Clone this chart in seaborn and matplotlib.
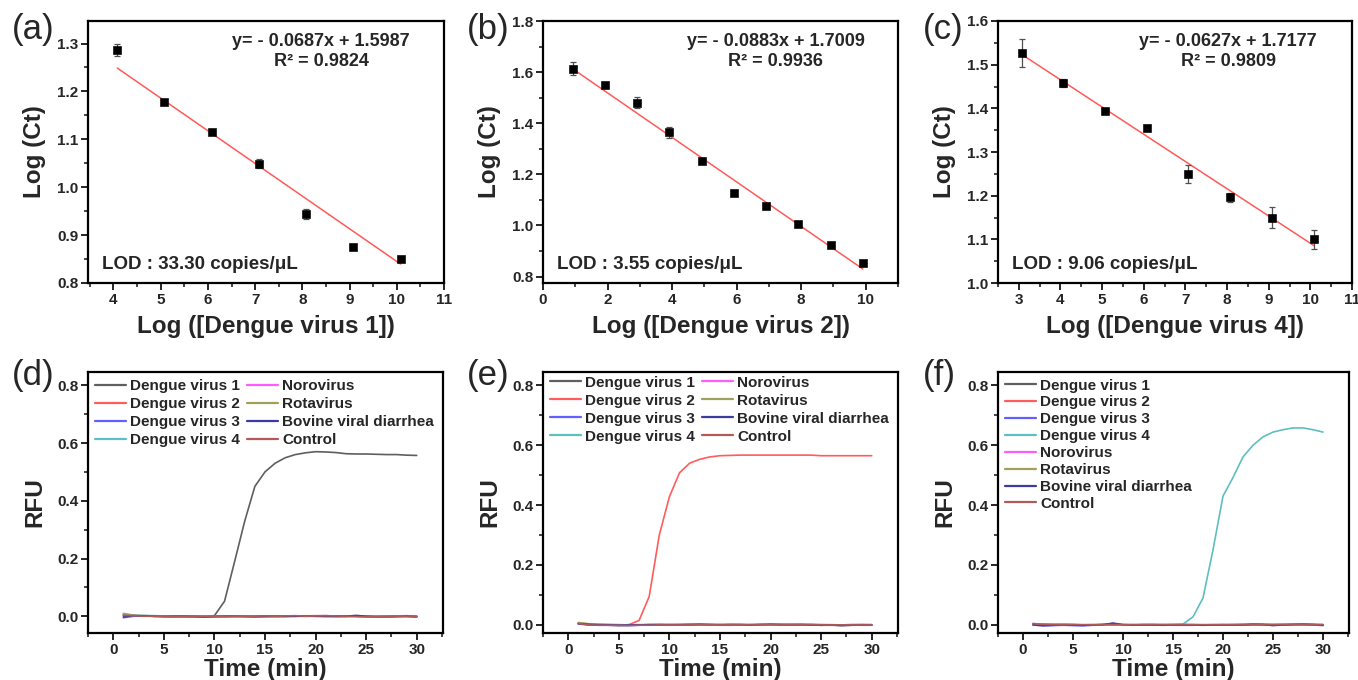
import matplotlib as mpl
import matplotlib.pyplot as plt
from matplotlib.ticker import MultipleLocator
import numpy as np
import pandas as pd
import seaborn as sns

sns.set_style("ticks")
plt.rcParams["font.family"] = ["Liberation Sans", "DejaVu Sans"]
plt.rcParams["font.weight"] = "bold"
plt.rcParams["axes.labelweight"] = "bold"

# ---- standard curves (top row) ----
log_conc_a = [4.08, 5.08, 6.08, 7.08, 8.08, 9.08, 10.08]
log_ct_a = [1.287, 1.178, 1.115, 1.049, 0.944, 0.8755, 0.851]
err_a = [0.013, 0.005, 0.003, 0.009, 0.011, 0.003, 0.003]

log_conc_b = [0.92, 1.92, 2.92, 3.91, 4.92, 5.92, 6.92, 7.91, 8.91, 9.91]
log_ct_b = [1.614, 1.549, 1.481, 1.365, 1.251, 1.129, 1.077, 1.005, 0.922, 0.853]
err_b = [0.025, 0.006, 0.02, 0.022, 0.005, 0.006, 0.005, 0.004, 0.004, 0.005]

log_conc_c = [3.08, 4.07, 5.07, 6.07, 7.06, 8.06, 9.07, 10.08]
log_ct_c = [1.527, 1.458, 1.394, 1.356, 1.250, 1.196, 1.150, 1.100]
err_c = [0.032, 0.01, 0.005, 0.006, 0.02, 0.01, 0.025, 0.021]

# drawn fit lines (slope, intercept) and printed annotations
fit_a = (-0.0682, 1.527)
fit_b = (-0.0871, 1.693)
fit_c = (-0.0624, 1.715)
eq_texts = ["y= - 0.0687x + 1.5987\nR² = 0.9824",
            "y= - 0.0883x + 1.7009\nR² = 0.9936",
            "y= - 0.0627x + 1.7177\nR² = 0.9809"]
lod_texts = ["LOD : 33.30 copies/μL", "LOD : 3.55 copies/μL", "LOD : 9.06 copies/μL"]
xlabels_top = ["Log ([Dengue virus 1])", "Log ([Dengue virus 2])", "Log ([Dengue virus 4])"]

# ---- specificity curves (bottom row) ----
time_min = list(range(1, 31))
virus_names = ["Dengue virus 1", "Dengue virus 2", "Dengue virus 3", "Dengue virus 4",
               "Norovirus", "Rotavirus", "Bovine viral diarrhea", "Control"]
virus_colors = ["#5f5f5f", "#ff5c5c", "#6060ff", "#5fbfbf",
                "#ff5cff", "#a0a05a", "#3c3ca0", "#b05a5a"]

rfu_d = {
    "Dengue virus 1": [0.004, 0.002, 0.001, 0.000, 0.000, -0.001, 0.000, 0.000, 0.000, 0.002,
                       0.052, 0.19, 0.33, 0.45, 0.50, 0.53, 0.549, 0.560, 0.566, 0.570,
                       0.569, 0.567, 0.563, 0.562, 0.562, 0.561, 0.560, 0.560, 0.558, 0.557],
    "Dengue virus 2": [0.006, 0.002, 0.001, 0.000, 0.000, -0.002, -0.002, -0.001, -0.001, -0.001,
                       -0.001, 0.000, 0.000, -0.001, 0.000, 0.001, 0.001, 0.000, 0.001, 0.002,
                       0.002, 0.000, -0.001, 0.000, -0.002, -0.002, -0.001, 0.000, 0.000, -0.002],
    "Dengue virus 3": [-0.005, 0.000, 0.001, 0.000, -0.001, -0.001, -0.001, -0.002, -0.002, -0.001,
                       0.000, -0.001, 0.000, -0.002, -0.002, -0.001, 0.000, 0.000, 0.001, 0.000,
                       -0.001, 0.000, 0.001, 0.000, -0.001, -0.002, -0.002, -0.001, 0.000, -0.002],
    "Dengue virus 4": [0.010, 0.004, 0.003, 0.002, 0.001, 0.000, 0.000, -0.001, 0.000, 0.000,
                       -0.001, -0.001, 0.000, 0.000, -0.001, -0.001, 0.000, 0.001, 0.000, 0.000,
                       -0.001, -0.002, -0.001, 0.000, 0.000, -0.001, -0.001, 0.000, 0.001, 0.000],
    "Norovirus": [0.004, 0.002, 0.001, 0.000, 0.000, 0.000, -0.001, -0.001, -0.001, -0.002,
                  -0.002, -0.001, -0.001, 0.000, 0.000, -0.001, 0.000, 0.000, 0.001, 0.000,
                  0.000, -0.001, 0.000, 0.000, -0.001, -0.001, 0.000, 0.001, 0.002, 0.000],
    "Rotavirus": [0.007, 0.003, 0.002, 0.001, 0.000, -0.001, 0.000, 0.000, -0.001, 0.000,
                  0.000, 0.001, 0.000, -0.001, 0.000, 0.000, 0.001, 0.000, 0.000, 0.001,
                  0.000, 0.000, 0.000, 0.001, 0.000, -0.001, 0.000, 0.000, 0.000, 0.000],
    "Bovine viral diarrhea": [-0.002, 0.002, 0.001, 0.000, -0.001, 0.000, 0.000, -0.001, -0.002, -0.001,
                              0.000, 0.000, -0.001, -0.001, 0.000, 0.000, -0.001, 0.000, 0.000, 0.000,
                              0.001, 0.000, 0.000, 0.003, 0.000, -0.001, -0.001, -0.001, 0.000, -0.001],
    "Control": [0.003, 0.002, 0.000, 0.000, 0.000, -0.001, -0.001, 0.000, 0.000, 0.000,
                -0.001, 0.000, 0.000, 0.000, 0.001, 0.000, 0.001, 0.002, 0.000, 0.001,
                0.002, 0.001, 0.000, -0.001, -0.002, -0.001, -0.001, 0.000, -0.001, -0.001],
}

rfu_e = {
    "Dengue virus 1": [0.004, 0.000, -0.001, -0.001, -0.002, -0.002, -0.001, -0.001, 0.000, -0.001,
                       -0.001, 0.000, 0.000, 0.000, -0.001, 0.000, 0.000, -0.001, -0.001, 0.000,
                       0.000, -0.001, -0.001, -0.001, -0.002, -0.002, -0.003, -0.002, -0.001, -0.001],
    "Dengue virus 2": [0.005, 0.000, -0.001, -0.002, -0.002, 0.000, 0.014, 0.094, 0.300, 0.428,
                       0.508, 0.540, 0.553, 0.561, 0.565, 0.566, 0.567, 0.567, 0.567, 0.567,
                       0.567, 0.567, 0.567, 0.567, 0.565, 0.565, 0.565, 0.565, 0.565, 0.565],
    "Dengue virus 3": [0.002, -0.001, -0.002, -0.002, -0.003, -0.003, -0.002, -0.001, -0.001, -0.002,
                       -0.001, 0.000, 0.000, -0.001, -0.001, -0.002, -0.001, -0.001, 0.000, 0.000,
                       -0.001, -0.001, 0.000, -0.001, -0.002, -0.001, -0.002, -0.001, -0.002, -0.002],
    "Dengue virus 4": [0.006, 0.002, 0.000, -0.001, -0.001, -0.002, -0.001, 0.000, 0.000, 0.000,
                       0.000, 0.001, 0.000, 0.000, 0.000, 0.000, -0.001, 0.000, 0.000, 0.001,
                       0.001, 0.000, 0.000, 0.000, 0.000, -0.001, -0.001, -0.001, 0.000, 0.000],
    "Norovirus": [0.003, 0.001, 0.000, -0.001, -0.001, -0.002, -0.001, -0.001, -0.001, -0.001,
                  0.000, 0.000, -0.001, -0.001, -0.002, -0.002, -0.001, -0.001, -0.001, 0.000,
                  0.000, 0.000, 0.001, 0.001, 0.000, 0.000, -0.001, 0.000, 0.000, -0.001],
    "Rotavirus": [0.007, 0.003, 0.002, 0.001, 0.000, -0.001, 0.000, 0.000, 0.000, 0.000,
                  0.000, 0.001, 0.001, 0.000, 0.000, 0.000, 0.000, 0.000, 0.001, 0.000,
                  0.001, 0.001, 0.000, 0.000, -0.001, -0.001, -0.001, 0.000, 0.000, 0.000],
    "Bovine viral diarrhea": [0.003, 0.001, -0.001, -0.001, -0.002, -0.001, -0.001, 0.000, 0.000, 0.000,
                              0.000, 0.000, 0.001, 0.000, 0.000, 0.000, 0.000, -0.001, 0.000, 0.001,
                              0.000, 0.000, 0.000, -0.001, -0.002, -0.001, -0.003, -0.002, -0.001, -0.001],
    "Control": [0.004, -0.001, -0.002, -0.002, -0.003, -0.003, -0.002, -0.002, -0.001, -0.001,
                -0.001, -0.001, 0.000, 0.000, -0.001, 0.000, 0.000, 0.000, 0.000, 0.000,
                -0.001, 0.000, 0.000, 0.000, -0.001, -0.001, -0.001, -0.001, -0.001, -0.001],
}

rfu_f = {
    "Dengue virus 1": [0.002, -0.001, -0.002, -0.001, -0.001, -0.002, -0.001, 0.000, 0.000, -0.001,
                       -0.001, 0.000, 0.000, -0.001, -0.001, 0.000, 0.000, -0.001, -0.001, -0.001,
                       0.000, 0.000, 0.001, 0.000, 0.000, 0.000, 0.001, 0.001, 0.000, -0.001],
    "Dengue virus 2": [0.003, 0.001, 0.000, 0.000, -0.001, -0.001, 0.000, 0.000, 0.000, 0.000,
                       0.000, 0.000, 0.000, 0.000, 0.000, 0.000, -0.001, -0.001, -0.001, 0.000,
                       0.000, 0.000, 0.000, 0.000, 0.000, 0.000, 0.001, 0.000, 0.000, 0.000],
    "Dengue virus 3": [-0.001, -0.004, -0.003, -0.002, -0.003, -0.004, -0.002, -0.001, 0.004, -0.001,
                       -0.002, -0.001, -0.001, -0.001, -0.002, -0.002, -0.002, -0.001, -0.001, -0.001,
                       -0.002, -0.001, 0.000, 0.001, -0.002, -0.001, 0.001, 0.001, -0.001, -0.003],
    "Dengue virus 4": [0.001, -0.001, -0.001, -0.002, -0.001, -0.002, -0.001, -0.001, 0.000, -0.001,
                       -0.001, -0.001, 0.000, 0.000, 0.000, 0.002, 0.026, 0.089, 0.250, 0.430,
                       0.492, 0.561, 0.600, 0.628, 0.644, 0.652, 0.658, 0.658, 0.652, 0.644],
    "Norovirus": [0.004, 0.000, 0.001, 0.002, 0.001, -0.001, -0.001, 0.000, 0.000, -0.001,
                  -0.001, 0.000, 0.000, -0.001, 0.000, -0.002, -0.002, -0.001, -0.001, -0.002,
                  -0.001, 0.000, 0.001, 0.001, -0.001, 0.002, 0.001, 0.000, 0.000, -0.001],
    "Rotavirus": [0.003, 0.002, 0.001, 0.000, 0.000, -0.001, -0.001, 0.000, -0.001, -0.002,
                  -0.001, -0.001, -0.002, -0.001, 0.000, 0.000, -0.001, -0.001, 0.000, 0.000,
                  -0.001, 0.001, 0.002, 0.001, 0.000, 0.000, 0.001, 0.002, 0.001, 0.000],
    "Bovine viral diarrhea": [-0.001, -0.003, -0.002, -0.001, -0.002, -0.002, -0.001, 0.000, 0.005, 0.000,
                              -0.001, -0.001, -0.001, -0.002, -0.001, -0.001, -0.001, -0.002, -0.001, -0.001,
                              -0.001, -0.001, 0.001, 0.000, -0.003, -0.001, 0.000, 0.001, 0.000, -0.002],
    "Control": [0.003, 0.001, 0.000, 0.000, 0.000, 0.000, 0.000, 0.000, 0.000, 0.000,
                0.000, 0.000, 0.000, 0.000, 0.000, 0.000, 0.000, 0.000, 0.000, 0.000,
                0.000, 0.000, 0.000, 0.000, 0.000, 0.000, 0.000, 0.000, 0.000, 0.000],
}


def style_axes(ax, xmajor, xminor, ymajor, yminor):
    for s in ax.spines.values():
        s.set_visible(True)
        s.set_linewidth(1.6)
        s.set_color("black")
    ax.xaxis.set_major_locator(MultipleLocator(xmajor))
    ax.xaxis.set_minor_locator(MultipleLocator(xminor))
    ax.yaxis.set_major_locator(MultipleLocator(ymajor))
    ax.yaxis.set_minor_locator(MultipleLocator(yminor))
    ax.tick_params(which="major", direction="out", length=5, width=1.4, labelsize=11,
                   top=False, right=False, pad=2)
    ax.tick_params(which="minor", direction="out", length=3, width=1.2, top=False, right=False)
    for lab in ax.get_xticklabels() + ax.get_yticklabels():
        lab.set_fontweight("bold")


fig = plt.figure(figsize=(13.58, 6.8), dpi=100)

W, H = 1358, 680
top_lefts = [88, 543, 998]
top_widths = [356, 355, 354]
top_axes = [fig.add_axes([l / W, 1 - 283 / H, w / W, 262 / H]) for l, w in zip(top_lefts, top_widths)]
bot_widths = [355, 355, 351]
bot_axes = [fig.add_axes([l / W, 1 - 633 / H, w / W, 261 / H]) for l, w in zip(top_lefts, bot_widths)]

top_sets = [(log_conc_a, log_ct_a, err_a, fit_a), (log_conc_b, log_ct_b, err_b, fit_b),
            (log_conc_c, log_ct_c, err_c, fit_c)]
top_xlims = [(3.46, 11.0), (0.0, 11.0), (2.5, 11.0)]
top_ylims = [(0.8, 1.347), (0.775, 1.8), (1.0, 1.6)]
top_ticks = [(1, 0.5, 0.1, 0.05), (2, 1, 0.2, 0.1), (1, 0.5, 0.1, 0.05)]
eq_x = [0.655, 0.655, 0.65]

for i, ax in enumerate(top_axes):
    xs, ys, es, (slope, icpt) = top_sets[i]
    xfit = np.array([xs[0], xs[-1]])
    sns.lineplot(x=xfit, y=slope * xfit + icpt, color="#ff5a5a", linewidth=1.1, ax=ax, zorder=2)
    ax.errorbar(xs, ys, yerr=es, fmt="none", ecolor="#505050", elinewidth=0.9, capsize=2.5,
                capthick=0.9, zorder=3)
    sns.scatterplot(x=xs, y=ys, marker="s", color="black", edgecolor="black", s=30, ax=ax, zorder=4)
    ax.set_xlim(*top_xlims[i])
    ax.set_ylim(*top_ylims[i])
    style_axes(ax, *top_ticks[i])
    ax.set_xlabel(xlabels_top[i], fontsize=17.5, labelpad=6)
    ax.set_ylabel("Log (Ct)", fontsize=17.5, labelpad=8)
    ax.text(eq_x[i], 0.884, eq_texts[i], transform=ax.transAxes, ha="center", va="center",
            fontsize=13, fontweight="bold", linespacing=1.2)
    ax.text(0.04, 0.07, lod_texts[i], transform=ax.transAxes, ha="left", va="center",
            fontsize=13.5, fontweight="bold")

bot_data = [rfu_d, rfu_e, rfu_f]
bot_ylims = [(-0.058, 0.846), (-0.028, 0.845), (-0.028, 0.845)]
leg_tops = [0.972, 0.986, 0.975]
leg_spacing = [0.26, 0.26, 0.19]
for i, ax in enumerate(bot_axes):
    rows = []
    for name in virus_names:
        for t, v in zip(time_min, bot_data[i][name]):
            rows.append({"Time": t, "RFU": v, "Virus": name})
    df = pd.DataFrame(rows)
    sns.lineplot(data=df, x="Time", y="RFU", hue="Virus", hue_order=virus_names,
                 palette=virus_colors, linewidth=1.2, ax=ax)
    ax.set_xlim(-2.5, 32.6)
    ax.set_ylim(*bot_ylims[i])
    style_axes(ax, 5, 2.5, 0.2, 0.1)
    ax.set_xlabel("Time (min)", fontsize=17.5, labelpad=1)
    ax.set_ylabel("RFU", fontsize=17.5, labelpad=8)
    leg_kw = dict(loc="upper left", bbox_to_anchor=(0.02, leg_tops[i]), frameon=False,
                  borderaxespad=0, borderpad=0, handlelength=2.0, handletextpad=0.3,
                  labelspacing=leg_spacing[i], prop={"weight": "bold", "size": 11})
    if i < 2:
        ax.legend(ncol=2, columnspacing=0.45, **leg_kw)
    else:
        ax.legend(ncol=1, **leg_kw)
    for line in ax.get_legend().get_lines():
        line.set_linewidth(1.6)

letters = ["(a)", "(b)", "(c)", "(d)", "(e)", "(f)"]
letter_pos = [(12, 30), (467, 30), (923, 30), (12, 376), (467, 376), (923, 376)]
for lab, (px, py) in zip(letters, letter_pos):
    fig.text(px / W, 1 - py / H, lab, fontsize=25, fontweight="normal", ha="left", va="center")

fig.savefig("out.png", dpi=100)
